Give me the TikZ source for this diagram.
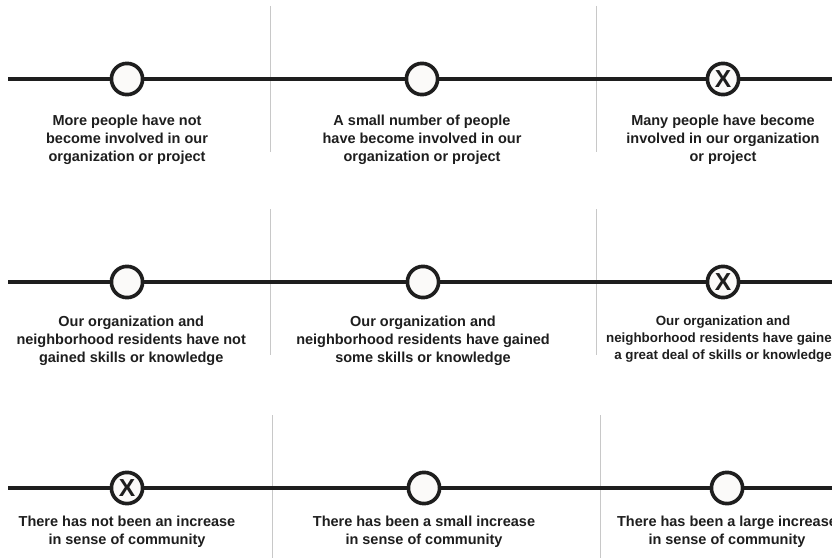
\documentclass[tikz,border=0pt]{standalone}
\usepackage{fontspec}
\setmainfont{Liberation Sans}
\usetikzlibrary{positioning}
\definecolor{ink}{HTML}{1E1E1E}
\definecolor{rulegray}{HTML}{C8C8C8}
\definecolor{ringfill}{HTML}{FBFAF9}

\begin{document}
\begin{tikzpicture}[x=0.025cm, y=-0.025cm,
  ring/.style={circle, draw=ink, fill=ringfill, line width=2.6pt, minimum size=0.78cm, inner sep=0pt},
  ringx/.style={ring, text=ink, font=\fontsize{17.5}{17.5}\selectfont\bfseries},
  scaleline/.style={draw=ink, line width=2.6pt},
  divider/.style={draw=rulegray, line width=0.7pt},
  caption/.style={align=center, text=ink, inner sep=0pt, font=\fontsize{10.3}{12.8}\selectfont\bfseries},
  smallcaption/.style={caption, font=\fontsize{9.5}{12.1}\selectfont\bfseries}]
\useasboundingbox (0,0) rectangle (832,558);
\clip (0,0) rectangle (832,558);

% column dividers
\draw[divider] (270,6) -- (270,152);
\draw[divider] (596,6) -- (596,152);
\draw[divider] (270,209) -- (270,355);
\draw[divider] (596,209) -- (596,355);
\draw[divider] (272,415) -- (272,558);
\draw[divider] (600,415) -- (600,558);

% row 1: involvement
\coordinate (s1) at (8,79);
\coordinate (e1) at (850,79);
\node[ring] (r1a) at (127,79) {};
\node[ring] (r1b) at (422,79) {};
\node[ringx] (r1c) at (723,79) {X};
\draw[scaleline] (s1) -- (r1a) -- (r1b) -- (r1c) -- (e1);
\node[caption, below=13pt of r1a] (t1a) {More people have not\\become involved in our\\organization or project};
\node[caption, below=13pt of r1b] (t1b) {A small number of people\\have become involved in our\\organization or project};
\node[caption, below=13pt of r1c] (t1c) {Many people have become\\involved in our organization\\or project};

% row 2: skills
\coordinate (s2) at (8,282);
\coordinate (e2) at (850,282);
\node[ring] (r2a) at (127,282) {};
\node[ring] (r2b) at (423,282) {};
\node[ringx] (r2c) at (723,282) {X};
\draw[scaleline] (s2) -- (r2a) -- (r2b) -- (r2c) -- (e2);
\node[caption, below=11.5pt of r2a, xshift=3] (t2a) {Our organization and\\neighborhood residents have not\\gained skills or knowledge};
\node[caption, below=11.5pt of r2b] (t2b) {Our organization and\\neighborhood residents have gained\\some skills or knowledge};
\node[smallcaption, below=11.5pt of r2c] (t2c) {Our organization and\\neighborhood residents have gained\\a great deal of skills or knowledge};

% row 3: community
\coordinate (s3) at (8,488);
\coordinate (e3) at (850,488);
\node[ringx] (r3a) at (127,488) {X};
\node[ring] (r3b) at (424,488) {};
\node[ring] (r3c) at (727,488) {};
\draw[scaleline] (s3) -- (r3a) -- (r3b) -- (r3c) -- (e3);
\node[caption, below=7.5pt of r3a] (t3a) {There has not been an increase\\in sense of community};
\node[caption, below=7.5pt of r3b] (t3b) {There has been a small increase\\in sense of community};
\node[caption, below=7.5pt of r3c] (t3c) {There has been a large increase\\in sense of community};
\end{tikzpicture}
\end{document}
